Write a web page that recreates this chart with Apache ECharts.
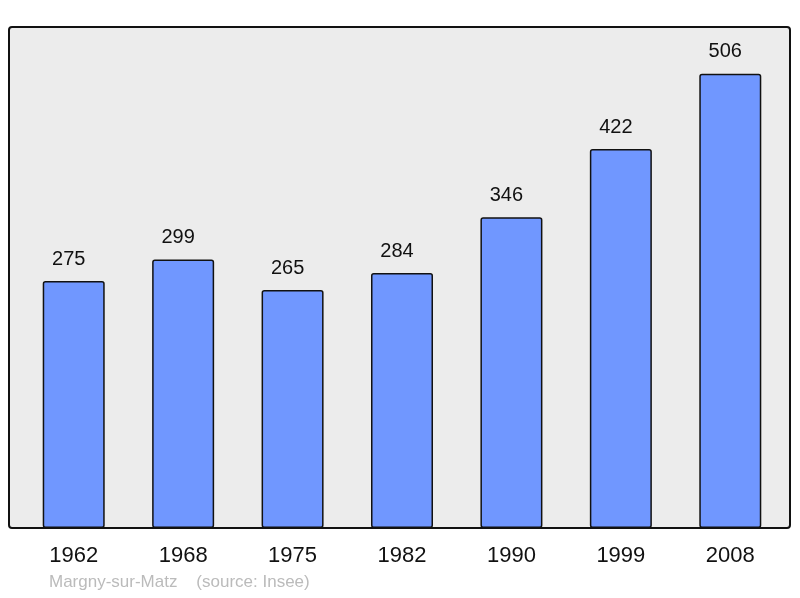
<!DOCTYPE html>
<html><head><meta charset="utf-8">
<script src="https://cdn.jsdelivr.net/npm/echarts@6/dist/echarts.min.js"></script>
<style>html,body{margin:0;padding:0;background:#fff}#c{width:800px;height:598px}</style>
</head><body><div id="c"></div>
<script>
var categories = ['1962','1968','1975','1982','1990','1999','2008'];
var values = [275, 299, 265, 284, 346, 422, 506];
var footer = 'Margny-sur-Matz    (source: Insee)';

var chart = echarts.init(document.getElementById('c'), null, {renderer:'canvas'});
chart.setOption({
  animation: false,
  graphic: [
    {type:'rect', z:-10, silent:true, shape:{x:9, y:27, width:781, height:501, r:3},
     style:{fill:'#ececec', stroke:'#111', lineWidth:2}},
    {type:'text', left:49, top:574, style:{text:footer, fill:'#bbbbbb', font:'17px "Liberation Sans", Arial, sans-serif'}}
  ],
  grid: {left:19, right:15, top:27, bottom:70, containLabel:false},
  xAxis: {
    type:'category', data:categories,
    axisLine:{show:false}, axisTick:{show:false},
    axisLabel:{color:'#111', fontSize:22, fontFamily:'"Liberation Sans", Arial, sans-serif', margin:17}
  },
  yAxis: {type:'value', min:0, max:558, show:false, splitLine:{show:false}},
  series: [{
    type:'bar', data:values, barWidth:62,
    itemStyle:{color:'#7097ff', borderColor:'#111', borderWidth:1.5, borderRadius:2},
    label:{show:true, position:'top', distance:12, offset:[-5,0], color:'#111', fontSize:20,
      fontFamily:'"Liberation Sans", Arial, sans-serif'}
  }]
});
</script></body></html>
